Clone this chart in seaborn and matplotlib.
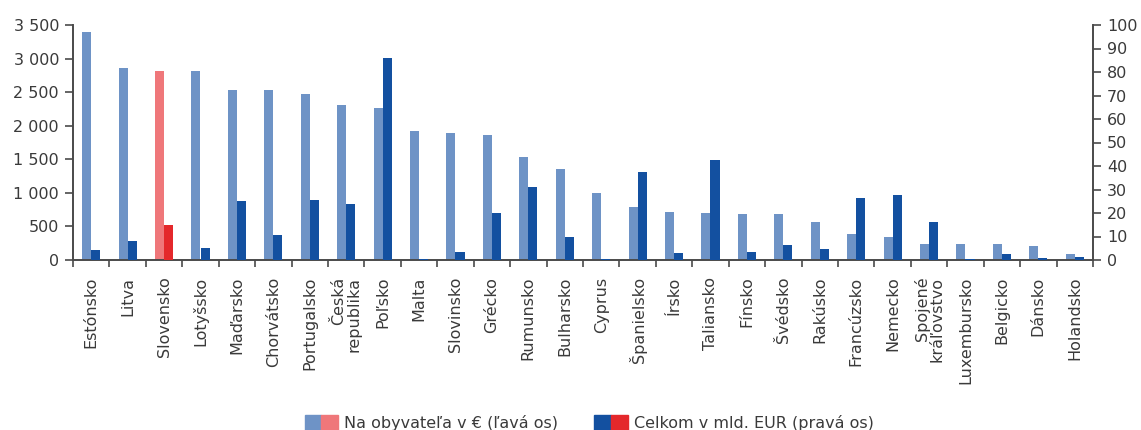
import numpy as np
import pandas as pd
import matplotlib
matplotlib.use("Agg")
import matplotlib.pyplot as plt
from matplotlib.patches import Patch
from matplotlib.legend_handler import HandlerTuple
from matplotlib.ticker import FuncFormatter, MultipleLocator
import seaborn as sns

# ---- data ----
countries = ["Estónsko", "Litva", "Slovensko", "Lotyšsko", "Maďarsko", "Chorvátsko",
             "Portugalsko", "Česká\nrepublika", "Poľsko", "Malta", "Slovinsko", "Grécko",
             "Rumunsko", "Bulharsko", "Cyprus", "Španielsko", "Írsko", "Taliansko",
             "Fínsko", "Švédsko", "Rakúsko", "Francúzsko", "Nemecko",
             "Spojené\nkráľovstvo", "Luxembursko", "Belgicko", "Dánsko", "Holandsko"]
per_capita = [3400, 2860, 2810, 2810, 2535, 2535, 2475, 2310, 2265, 1925, 1895, 1865,
              1540, 1360, 1000, 795, 720, 705, 690, 690, 570, 390, 345, 245, 245, 245,
              215, 95]
total_bn = [4.4, 8.2, 15.0, 5.2, 25.2, 10.8, 25.7, 24.0, 86.1, 0.5, 3.5, 20.1, 31.2,
            9.9, 0.5, 37.6, 3.1, 42.7, 3.5, 6.5, 4.8, 26.5, 27.8, 16.3, 0.5, 2.7, 1.0, 1.4]
highlight = "Slovensko"
series_left = "Na obyvateľa v € (ľavá os)"
series_right = "Celkom v mld. EUR (pravá os)"
left_ticks = list(range(0, 3501, 500))
right_ticks = list(range(0, 101, 10))

# ---- style ----
LIGHT = "#6E93C6"
DARK = "#1350A0"
PINK = "#EF777A"
RED = "#E4282B"
TXT = "#3a3a3a"
AX = "#4a4a4a"

sns.set_style("ticks")
plt.rcParams["font.family"] = ["DejaVu Sans"]
plt.rcParams["font.size"] = 11.5
plt.rcParams["text.color"] = TXT
plt.rcParams["xtick.labelcolor"] = TXT
plt.rcParams["ytick.labelcolor"] = TXT

hue_order = [series_left, series_right]
df_left = pd.DataFrame({"country": countries * 2,
                        "series": [series_left] * len(countries) + [series_right] * len(countries),
                        "value": per_capita + [0] * len(countries)})
df_right = pd.DataFrame({"country": countries * 2,
                         "series": [series_left] * len(countries) + [series_right] * len(countries),
                         "value": [0] * len(countries) + total_bn})

fig = plt.figure(figsize=(11.41, 4.30), dpi=100)
ax = fig.add_axes([73 / 1141, 170 / 430, (1093 - 73) / 1141, 235 / 430])
ax2 = ax.twinx()

pal = {series_left: LIGHT, series_right: DARK}
sns.barplot(data=df_left, x="country", y="value", hue="series", hue_order=hue_order,
            order=countries, palette=pal, width=0.5, saturation=1, linewidth=0,
            legend=False, errorbar=None, ax=ax)
sns.barplot(data=df_right, x="country", y="value", hue="series", hue_order=hue_order,
            order=countries, palette=pal, width=0.5, saturation=1, linewidth=0,
            legend=False, errorbar=None, ax=ax2)

hi = countries.index(highlight)
ax.containers[0][hi].set_facecolor(PINK)
ax2.containers[1][hi].set_facecolor(RED)

n = len(countries)
ax.set_xlim(-0.5, n - 0.5)
ax.set_ylim(0, 3500)
ax2.set_ylim(0, 100)
ax.set_yticks(left_ticks)
ax2.set_yticks(right_ticks)
ax.yaxis.set_major_formatter(FuncFormatter(lambda v, p: f"{int(v):,}".replace(",", " ")))

ax.set_xticks(range(n))
ax.set_xticklabels(countries, rotation=90, ha="center", va="top",
                   multialignment="right", linespacing=1.0)
ax.set_xticks(np.arange(-0.5, n, 1), minor=True)
ax.tick_params(axis="x", which="major", length=0, pad=12, labelsize=11.5)
ax.tick_params(axis="x", which="minor", length=5, width=1.2, color=AX)
ax.tick_params(axis="y", length=6, width=1.2, color=AX, pad=4, labelsize=11.5)
ax2.tick_params(axis="y", length=6, width=1.2, color=AX, pad=4, labelsize=11.5)
ax2.tick_params(axis="x", which="both", length=0, labelbottom=False)

ax.set_xlabel("")
ax.set_ylabel("")
ax2.set_xlabel("")
ax2.set_ylabel("")

for s in ["top", "right"]:
    ax.spines[s].set_visible(False)
for s in ["top", "left", "bottom"]:
    ax2.spines[s].set_visible(False)
ax.spines["left"].set_color(AX)
ax.spines["bottom"].set_color(AX)
ax2.spines["right"].set_color(AX)
for sp in [ax.spines["left"], ax.spines["bottom"], ax2.spines["right"]]:
    sp.set_linewidth(1.4)

handles = [(Patch(color=LIGHT), Patch(color=PINK)), (Patch(color=DARK), Patch(color=RED))]
fig.legend(handles, [series_left, series_right], loc="center",
           bbox_to_anchor=(589 / 1141, 7 / 430), ncol=2, frameon=False,
           handler_map={tuple: HandlerTuple(ndivide=None, pad=0)},
           handlelength=2.1, handleheight=1.1, handletextpad=0.35,
           columnspacing=2.3, fontsize=11.5)

fig.savefig("out.png", dpi=100)
